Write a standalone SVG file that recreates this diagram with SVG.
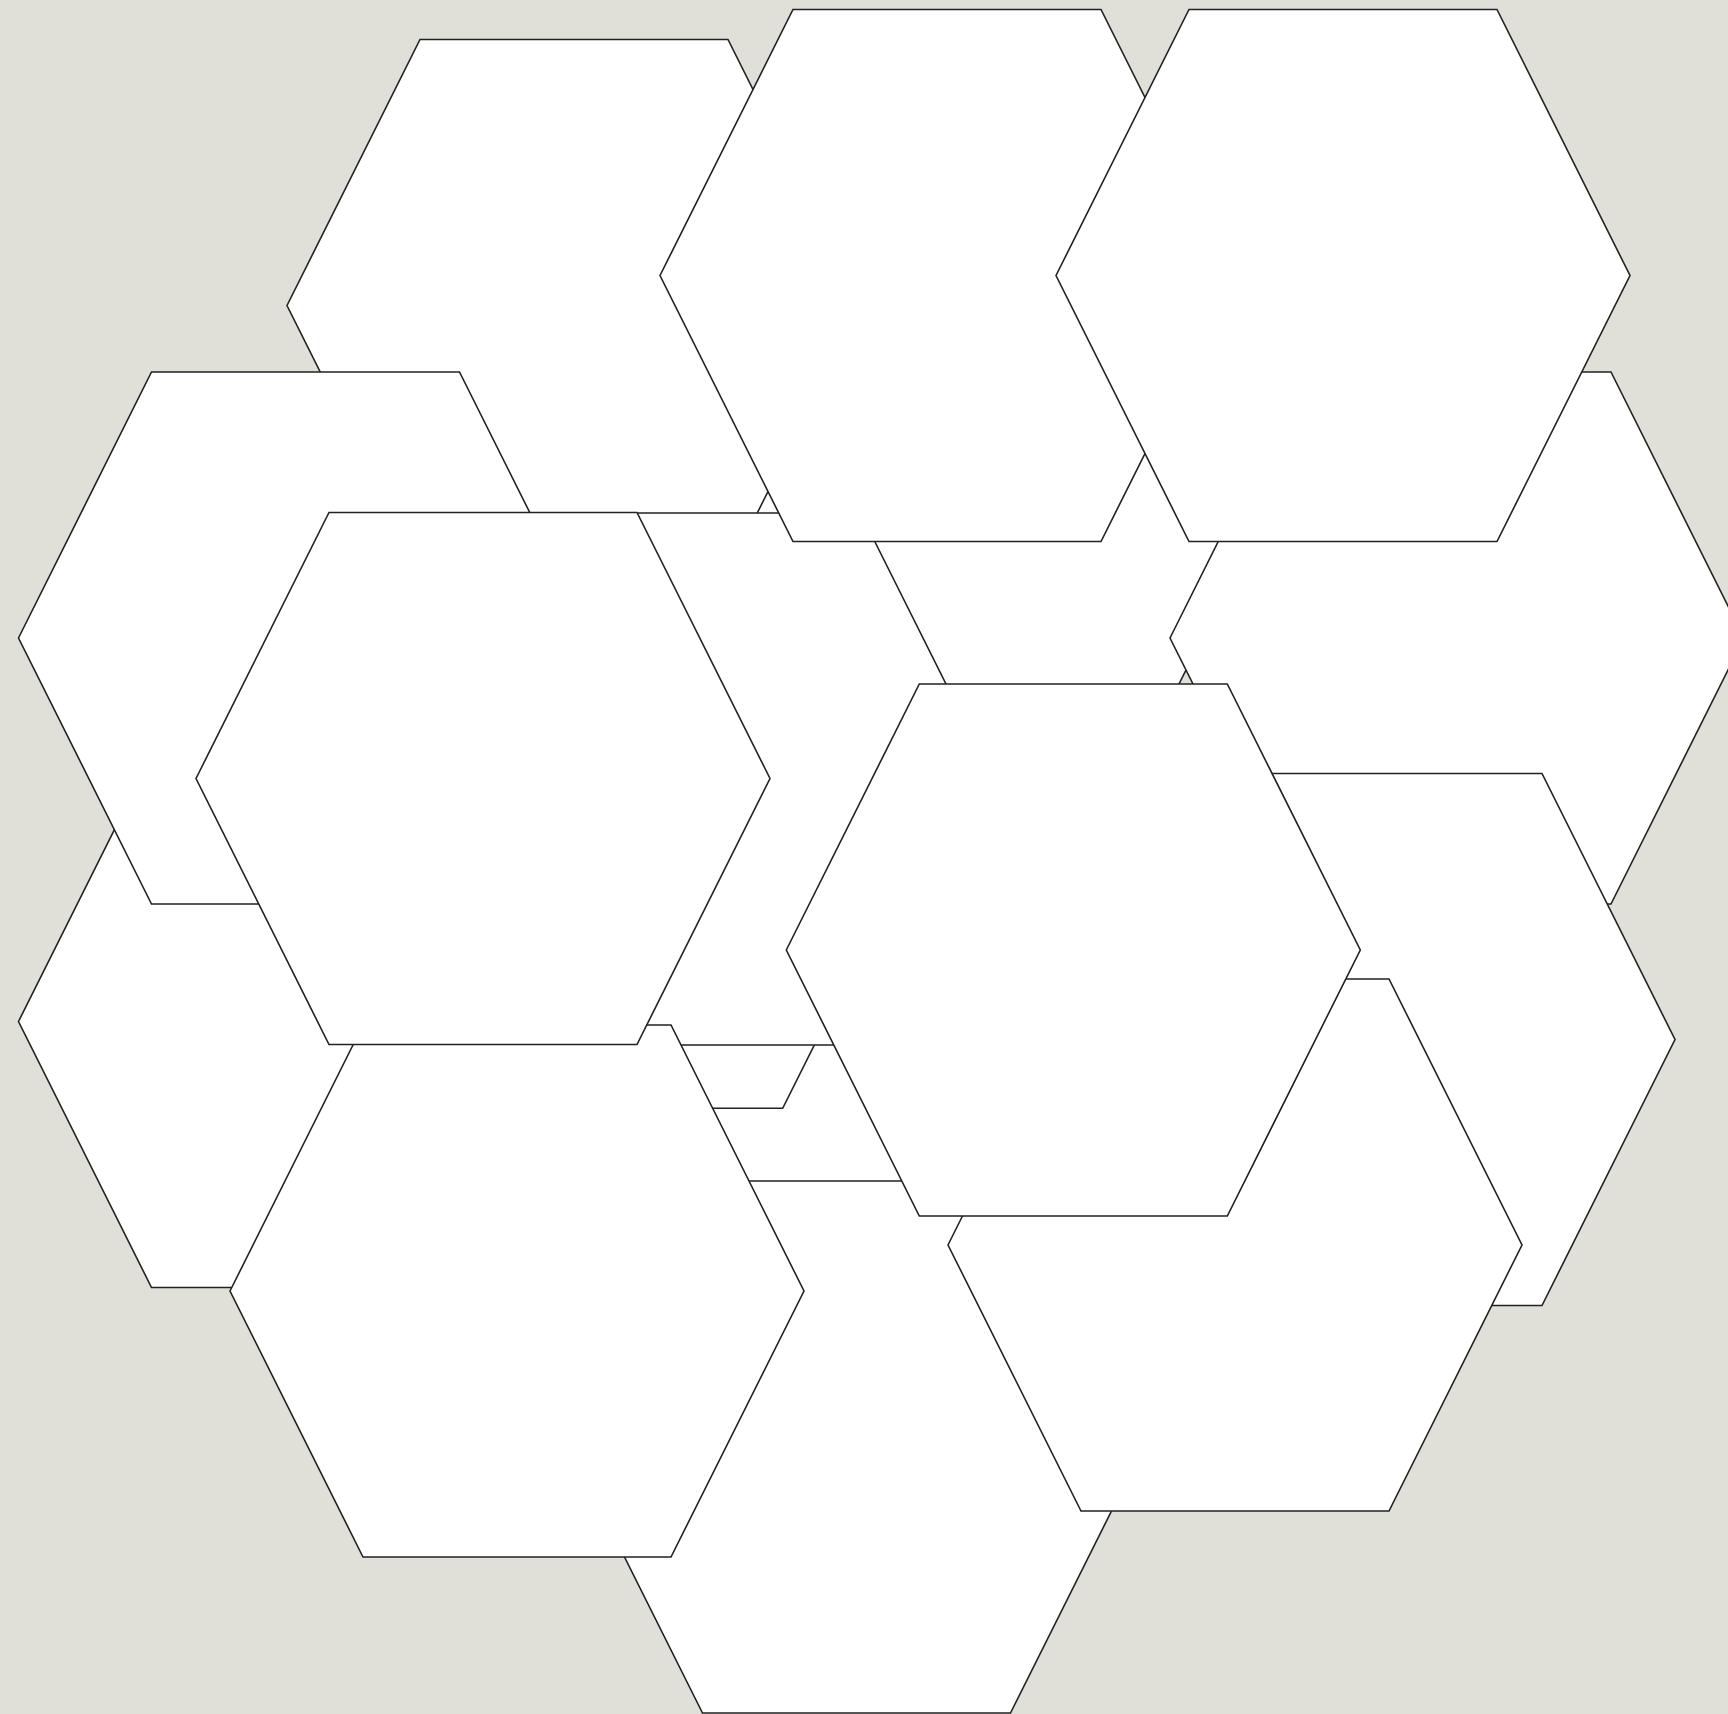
<svg xmlns="http://www.w3.org/2000/svg" width="1728" height="1714" viewBox="0 0 1728 1714">
<style>
.hex{fill:#ffffff;stroke:#222222;stroke-width:1.6;stroke-linejoin:miter}
</style>
<defs>
<polygon id="hexshape" points="-287,0 -154,-266 154,-266 287,0 154,266 -154,266"/>
</defs>
<rect x="0" y="0" width="1728" height="1714" fill="#e0e0d9"/>
<g id="nodes">
<g id="hex-q"><use href="#hexshape" class="hex" x="800" y="1180"/></g>
<g id="hex-p"><use href="#hexshape" class="hex" x="948" y="572"/></g>
<g id="hex-e"><use href="#hexshape" class="hex" x="1457" y="638"/></g>
<g id="hex-a"><use href="#hexshape" class="hex" x="574" y="305.5"/></g>
<g id="hex-n"><use href="#hexshape" class="hex" x="628.7" y="842.3"/></g>
<g id="hex-g"><use href="#hexshape" class="hex" x="706.5" y="779"/></g>
<g id="hex-b"><use href="#hexshape" class="hex" x="947" y="275.5"/></g>
<g id="hex-c"><use href="#hexshape" class="hex" x="1343" y="275.5"/></g>
<g id="hex-i"><use href="#hexshape" class="hex" x="1388" y="1039.5"/></g>
<g id="hex-m"><use href="#hexshape" class="hex" x="856.5" y="1447"/></g>
<g id="hex-l"><use href="#hexshape" class="hex" x="305.5" y="1021.5"/></g>
<g id="hex-d"><use href="#hexshape" class="hex" x="305.5" y="638"/></g>
<g id="hex-k"><use href="#hexshape" class="hex" x="517" y="1291"/></g>
<g id="hex-f"><use href="#hexshape" class="hex" x="483" y="778.5"/></g>
<g id="hex-j"><use href="#hexshape" class="hex" x="1235" y="1245"/></g>
<g id="hex-h"><use href="#hexshape" class="hex" x="1073.3" y="950"/></g>
</g>
<g id="connectors"></g>
</svg>
